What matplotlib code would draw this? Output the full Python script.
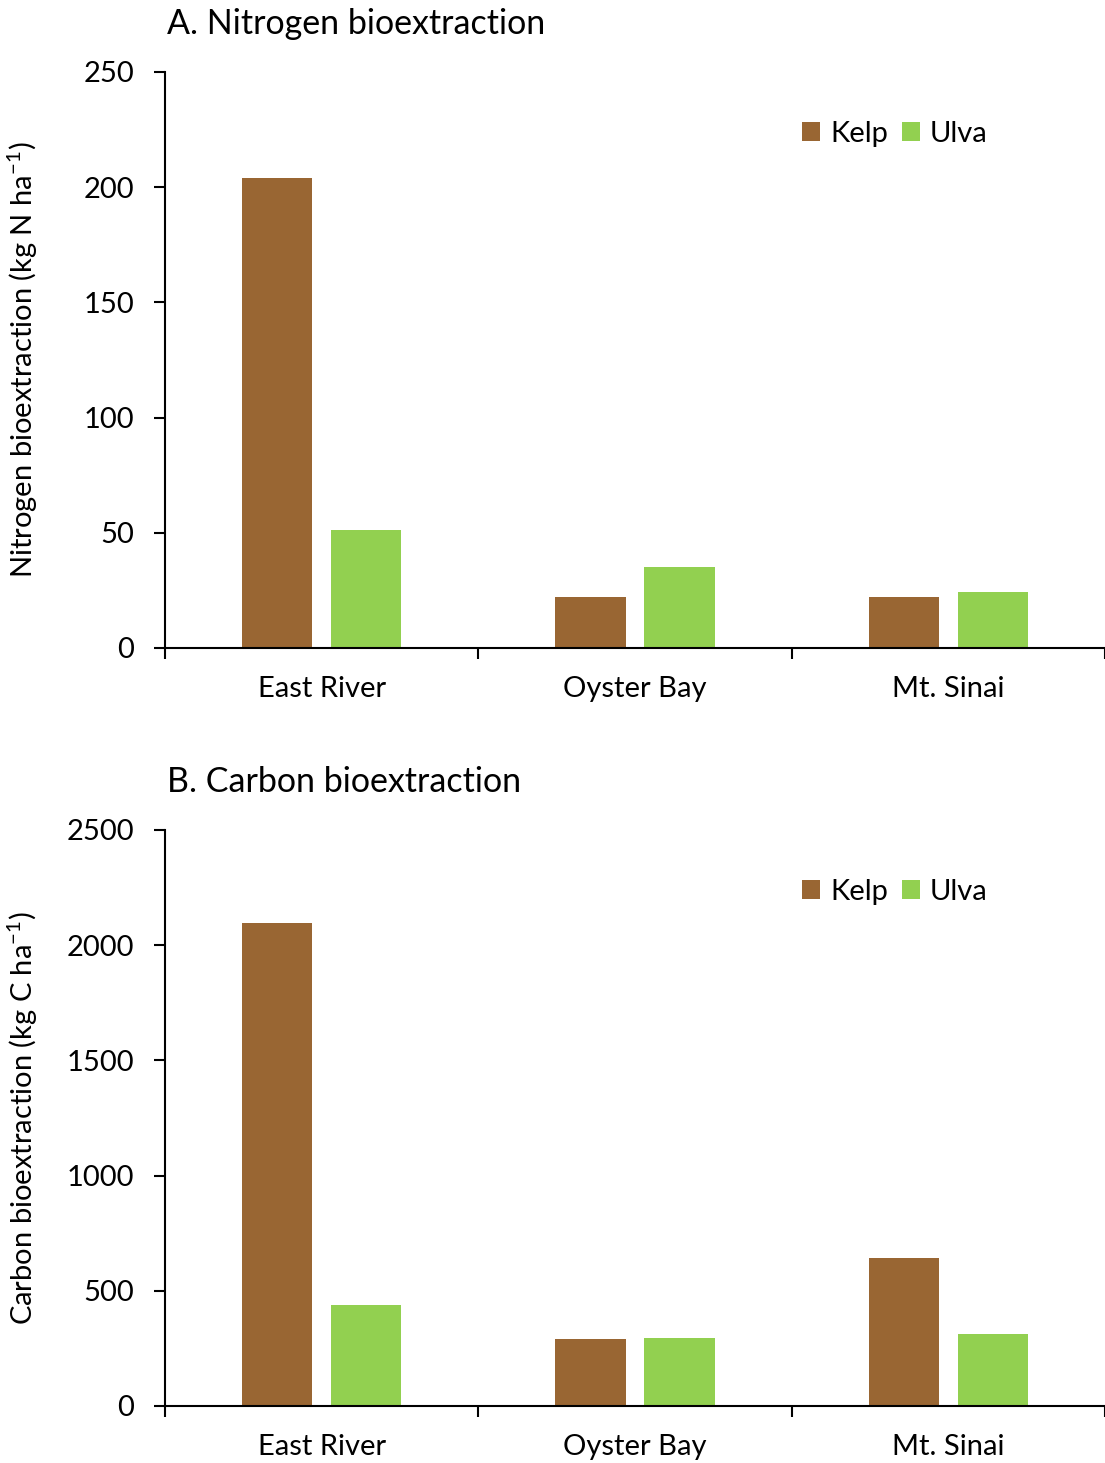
import matplotlib
matplotlib.use("Agg")
import matplotlib.pyplot as plt
import numpy as np
from matplotlib.ticker import FixedLocator

plt.rcParams['font.family'] = ['Lato', 'DejaVu Sans']
plt.rcParams['mathtext.fontset'] = 'custom'
plt.rcParams['mathtext.rm'] = 'Lato'
plt.rcParams['mathtext.it'] = 'Lato:italic'

sites = ["East River", "Oyster Bay", "Mt. Sinai"]
series = ["Kelp", "Ulva"]
nitrogen_kelp = [204.0, 22.1, 22.0]
nitrogen_ulva = [51.3, 35.3, 24.5]
carbon_kelp = [2096, 291, 642]
carbon_ulva = [438, 295, 312]
nitrogen_ticks = [0, 50, 100, 150, 200, 250]
carbon_ticks = [0, 500, 1000, 1500, 2000, 2500]

colors = {"Kelp": "#996633", "Ulva": "#92D050"}

fig = plt.figure(figsize=(11.05, 14.63), dpi=100)
axA = fig.add_axes([0.1493, 0.5571, 0.8507, 0.3937])
axB = fig.add_axes([0.1493, 0.0390, 0.8507, 0.3937])

panels = [
    (axA, nitrogen_kelp, nitrogen_ulva, nitrogen_ticks, "A. Nitrogen bioextraction",
     "Nitrogen bioextraction (kg N ha$^{-1}$)"),
    (axB, carbon_kelp, carbon_ulva, carbon_ticks, "B. Carbon bioextraction",
     "Carbon bioextraction (kg C ha$^{-1}$)"),
]

x = np.arange(len(sites))
w = 0.224
off = 0.142
for ax, kelp, ulva, ticks, title, ylabel in panels:
    ax.bar(x - off, kelp, w, color=colors["Kelp"], label="Kelp")
    ax.bar(x + off, ulva, w, color=colors["Ulva"], label="Ulva")
    ax.set_xlim(-0.5, 2.5)
    ax.set_ylim(ticks[0], ticks[-1])
    ax.set_yticks(ticks)
    ax.set_yticklabels([str(t) for t in ticks], fontsize=21)
    ax.set_xticks(x)
    ax.set_xticklabels(sites, fontsize=21)
    ax.xaxis.set_minor_locator(FixedLocator([-0.5, 0.5, 1.5, 2.5]))
    ax.tick_params(axis='x', which='major', length=0, pad=20)
    ax.tick_params(axis='x', which='minor', length=8, width=1.5, direction='out')
    ax.tick_params(axis='y', which='major', length=8, width=1.5, direction='out', pad=14)
    for s in ['top', 'right']:
        ax.spines[s].set_visible(False)
    for s in ['left', 'bottom']:
        ax.spines[s].set_linewidth(1.5)
        ax.spines[s].set_color('black')
    ax.set_ylabel(ylabel, fontsize=21)
    ax.yaxis.set_label_coords(-0.133, 0.5)
    ax.text(0.002, 1.055, title, transform=ax.transAxes, fontsize=24.5,
            ha='left', va='bottom')
    leg = ax.legend(loc='center left', bbox_to_anchor=(0.65, 0.893), ncol=2,
                    frameon=False, fontsize=21, handlelength=0.6, handleheight=0.6,
                    handletextpad=0.35, columnspacing=0.5)

fig.savefig("out.png", dpi=100)
